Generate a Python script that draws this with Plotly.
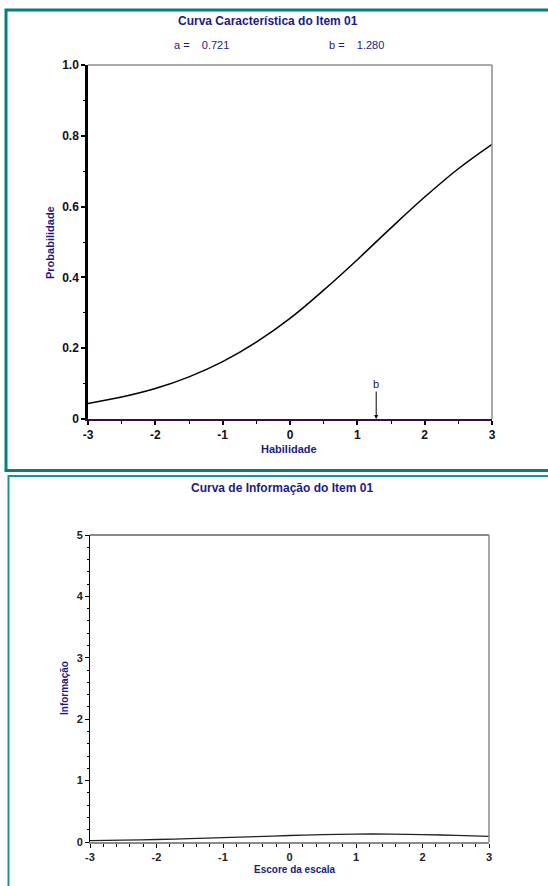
import plotly.graph_objects as go

W, H = 548, 886

# ---- data ----
theta = [-3.0, -2.5, -2.0, -1.5, -1.0, -0.5, 0.0, 0.5, 1.0, 1.5, 2.0, 2.5, 3.0]
prob = [0.044, 0.062, 0.086, 0.119, 0.162, 0.217, 0.284, 0.364, 0.450, 0.540, 0.627, 0.707, 0.776]
info = [0.022, 0.030, 0.041, 0.055, 0.071, 0.088, 0.106, 0.120, 0.129, 0.129, 0.121, 0.108, 0.090]
item_a = "0.721"
item_b = "1.280"
b_value = 1.28
prob_ticks = [0, 0.2, 0.4, 0.6, 0.8, 1.0]
prob_ticktext = ["0", "0.2", "0.4", "0.6", "0.8", "1.0"]
x_ticks = [-3, -2, -1, 0, 1, 2, 3]
info_ticks = [0, 1, 2, 3, 4, 5]

NAVY = "#1c1c80"
TEAL = "#00827f"
GREY = "#8a8a8a"
FONT = "Liberation Sans, Arial, sans-serif"


def px(x):
    return x / W


def py(y):
    return 1 - y / H


fig = go.Figure()
fig.add_trace(go.Scatter(x=theta, y=prob, mode="lines", line=dict(color="black", width=1.5, shape="spline"),
                         xaxis="x", yaxis="y", showlegend=False, hoverinfo="skip"))
fig.add_trace(go.Scatter(x=theta, y=info, mode="lines", line=dict(color="#222222", width=1.3, shape="spline"),
                         xaxis="x2", yaxis="y2", showlegend=False, hoverinfo="skip"))

tickfont_bold = dict(family=FONT, size=12, color="#111111", weight="bold")
tickfont2 = dict(family=FONT, size=11, color="#222222", weight="bold")

fig.update_layout(
    width=W, height=H, margin=dict(l=0, r=0, t=0, b=0, pad=0, autoexpand=False),
    paper_bgcolor="white", plot_bgcolor="white",
    xaxis=dict(domain=[px(88), px(492)], range=[-3, 3], anchor="y",
               tickvals=x_ticks, ticktext=[str(v) for v in x_ticks],
               ticks="outside", ticklen=4, tickwidth=1.5, tickcolor="black",
               minor=dict(dtick=0.5, tick0=-3, ticks="outside", ticklen=3, tickcolor="black", tickwidth=1.2),
               showline=True, linecolor="#3a0a4a", linewidth=2,
               showgrid=False, zeroline=False, tickfont=tickfont_bold, fixedrange=True, automargin=False),
    yaxis=dict(domain=[py(419), py(65)], range=[0, 1], anchor="x",
               tickvals=prob_ticks, ticktext=prob_ticktext,
               ticks="outside", ticklen=4, tickwidth=1.5, tickcolor="black",
               minor=dict(dtick=0.1, tick0=0, ticks="outside", ticklen=2, tickcolor="black", tickwidth=1),
               showline=True, linecolor="black", linewidth=2.5,
               showgrid=False, zeroline=False, tickfont=tickfont_bold, fixedrange=True, automargin=False),
    xaxis2=dict(domain=[px(90), px(489)], range=[-3, 3], anchor="y2",
                tickvals=x_ticks, ticktext=[str(v) for v in x_ticks],
                ticks="outside", ticklen=4, tickwidth=1, tickcolor="black",
                minor=dict(dtick=0.2, tick0=-3, ticks="outside", ticklen=3, tickcolor="black", tickwidth=1),
                showline=True, linecolor=GREY, linewidth=2,
                showgrid=False, zeroline=False, tickfont=tickfont2, fixedrange=True, automargin=False),
    yaxis2=dict(domain=[py(842), py(535)], range=[0, 5], anchor="x2",
                tickvals=info_ticks, ticktext=[str(v) for v in info_ticks],
                ticks="outside", ticklen=4, tickwidth=1, tickcolor="black",
                minor=dict(dtick=0.2, tick0=0, ticks="outside", ticklen=2, tickcolor="black", tickwidth=1),
                showline=True, linecolor="black", linewidth=1,
                showgrid=False, zeroline=False, tickfont=tickfont2, fixedrange=True, automargin=False),
)

shapes = [
    # panel borders
    dict(type="rect", xref="paper", yref="paper", x0=px(6), x1=px(600), y0=py(470.5), y1=py(10),
         line=dict(color=TEAL, width=3), fillcolor="rgba(0,0,0,0)"),
    dict(type="rect", xref="paper", yref="paper", x0=px(8.5), x1=px(600), y0=py(950), y1=py(476),
         line=dict(color="#1a9490", width=2), fillcolor="rgba(0,0,0,0)"),
    # frame top/right lines (grey)
    dict(type="line", xref="paper", yref="paper", x0=px(88), x1=px(492), y0=py(65), y1=py(65),
         line=dict(color="#555555", width=1)),
    dict(type="line", xref="paper", yref="paper", x0=px(492), x1=px(492), y0=py(65), y1=py(419),
         line=dict(color=GREY, width=1.5)),
    dict(type="line", xref="paper", yref="paper", x0=px(90), x1=px(489), y0=py(535), y1=py(535),
         line=dict(color=GREY, width=2)),
    dict(type="line", xref="paper", yref="paper", x0=px(489), x1=px(489), y0=py(535), y1=py(842),
         line=dict(color=GREY, width=1.5)),
]
fig.update_layout(shapes=shapes)

def txt(x, y, s, size=11, bold=False, color=NAVY, angle=0, xanchor="center"):
    return dict(x=px(x), y=py(y), xref="paper", yref="paper", text=s, showarrow=False,
                font=dict(family=FONT, size=size, color=color, weight="bold" if bold else "normal"),
                textangle=angle, xanchor=xanchor, yanchor="middle")

annotations = [
    txt(268, 21, "Curva Característica do Item 01", size=12, bold=True),
    txt(172, 45, "a =    " + item_a, size=11, xanchor="left"),
    txt(327, 45, "b =    " + item_b, size=11, xanchor="left"),
    txt(50, 243, "Probabilidade", size=11, bold=True, angle=-90),
    txt(289, 449, "Habilidade", size=11, bold=True),
    txt(282, 488, "Curva de Informação do Item 01", size=12, bold=True),
    txt(64, 688, "Informação", size=10, bold=True, angle=-90),
    txt(295, 869, "Escore da escala", size=10, bold=True),
    dict(x=b_value, y=0, xref="x", yref="y", text="b", showarrow=True,
         ax=0, ay=-35, arrowhead=2, arrowsize=0.8, arrowwidth=1, arrowcolor="black",
         font=dict(family=FONT, size=11, color="#222222")),
]
fig.update_layout(annotations=annotations)

fig.write_html("out.html")
